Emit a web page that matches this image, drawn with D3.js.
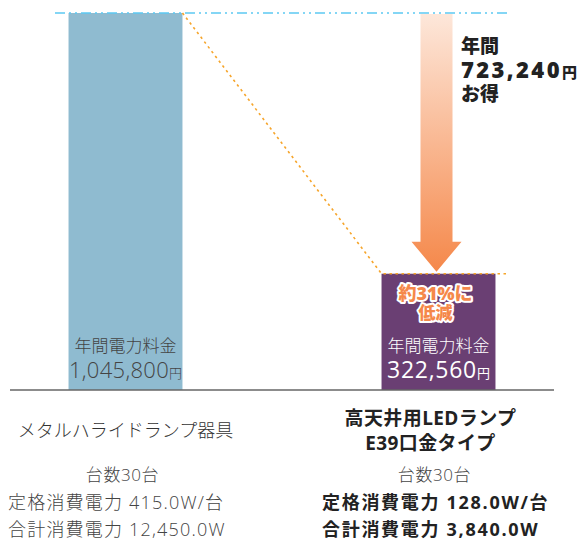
<!DOCTYPE html>
<html><head><meta charset="utf-8">
<script src="https://cdn.jsdelivr.net/npm/d3@7"></script>
<style>body{margin:0;background:#fff}svg{display:block}</style>
</head><body>
<script>
const categories = ["メタルハライドランプ器具", "高天井用LEDランプ E39口金タイプ"];
const costs = [1045800, 322560];
const unitCount = ["台数30台", "台数30台"];
const ratedPower = ["定格消費電力 415.0W/台", "定格消費電力 128.0W/台"];
const totalPower = ["合計消費電力 12,450.0W", "合計消費電力 3,840.0W"];
const savings = 723240;
const reductionLabel = ["約31%に", "低減"];

const W = 584, H = 541;
const font = "'Open Sans','Noto Sans CJK JP',sans-serif";
const svg = d3.select("body").append("svg").attr("width", W).attr("height", H)
  .style("font-family", font);

const x = d3.scaleBand().domain(categories).range([10, 554]).paddingInner(0.636).paddingOuter(0.187);
const y = d3.scaleLinear().domain([0, costs[0]]).range([390, 13]);
const fmt = d3.format(",");
const colors = ["#8fbbd0", "#6a3f73"];

const defs = svg.append("defs");
const grad = defs.append("linearGradient").attr("id", "ag").attr("x1", 0).attr("y1", 0).attr("x2", 0).attr("y2", 1);
grad.append("stop").attr("offset", "0%").attr("stop-color", "#fde7da");
grad.append("stop").attr("offset", "100%").attr("stop-color", "#f5884a");

// bars
svg.selectAll("rect.bar").data(categories).join("rect").attr("class", "bar")
  .attr("x", d => x(d)).attr("width", x.bandwidth())
  .attr("y", (d, i) => y(costs[i])).attr("height", (d, i) => y(0) - y(costs[i]))
  .attr("fill", (d, i) => colors[i]);

// baseline
svg.append("line").attr("x1", 10).attr("x2", 554).attr("y1", y(0)).attr("y2", y(0))
  .attr("stroke", "#666").attr("stroke-width", 1.5);

// cyan reference line at max
svg.append("line").attr("x1", 55).attr("x2", 509).attr("y1", y(costs[0])).attr("y2", y(costs[0]))
  .attr("stroke", "#5cc9f2").attr("stroke-width", 1.5).attr("stroke-dasharray", "10,4,2,4,2,4");

// orange dotted lines
const x0r = x(categories[0]) + x.bandwidth(), x1l = x(categories[1]);
svg.append("path")
  .attr("d", `M${x0r},${y(costs[0])}L${x1l},${y(costs[1])}L${x1l + x.bandwidth() + 14},${y(costs[1])}`)
  .attr("fill", "none").attr("stroke", "#f6a52b").attr("stroke-width", 1.6).attr("stroke-dasharray", "2.5,3.5");

// arrow
const ax = x(categories[1]) + x.bandwidth() / 2 - 2;
const aTop = y(costs[0]) + 1, aTip = y(costs[1]) - 2, headH = 30, shaftW = 16, headW = 25;
svg.append("path")
  .attr("d", `M${ax - shaftW},${aTop}L${ax + shaftW},${aTop}L${ax + shaftW},${aTip - headH}L${ax + headW},${aTip - headH}L${ax},${aTip}L${ax - headW},${aTip - headH}L${ax - shaftW},${aTip - headH}Z`)
  .attr("fill", "url(#ag)");

// savings annotation
const ann = svg.append("text").attr("fill", "#222").attr("font-weight", 800).attr("font-size", 19);
ann.append("tspan").attr("x", 461).attr("y", 53).text("年間");
ann.append("tspan").attr("x", 461).attr("y", 78).attr("font-size", 22).attr("letter-spacing", 2.4).text(fmt(savings));
ann.append("tspan").attr("font-size", 15).text("円");
ann.append("tspan").attr("x", 461).attr("y", 101).text("お得");

// bar labels
categories.forEach((c, i) => {
  const cx = x(c) + x.bandwidth() / 2;
  const col = i === 0 ? "#444" : "#fff";
  svg.append("text").attr("x", cx).attr("y", 352).attr("text-anchor", "middle")
    .attr("fill", col).attr("font-size", 17).attr("font-weight", 300).text("年間電力料金");
  const v = svg.append("text").attr("x", cx).attr("y", 378).attr("text-anchor", "middle")
    .attr("fill", col).attr("font-weight", i === 0 ? 300 : 400);
  v.append("tspan").attr("font-size", i === 0 ? 22 : 23).attr("letter-spacing", i === 0 ? 0.3 : 0.7).text(fmt(costs[i]));
  v.append("tspan").attr("font-size", 13).text("円");
});

// reduction label
const rcx = x(categories[1]) + x.bandwidth() / 2 - 3;
reductionLabel.forEach((t, i) => {
  svg.append("text").attr("x", rcx).attr("y", 300 + i * 19).attr("text-anchor", "middle")
    .attr("font-size", i === 0 ? 18 : 17).attr("font-weight", 800)
    .attr("fill", "#f5884a").attr("stroke", "#fff").attr("stroke-width", 4)
    .attr("stroke-linejoin", "round").attr("paint-order", "stroke").text(t);
});

// category labels
const c0 = x(categories[0]) + x.bandwidth() / 2;
const c1 = x(categories[1]) + x.bandwidth() / 2;
svg.append("text").attr("x", c0).attr("y", 437).attr("text-anchor", "middle")
  .attr("fill", "#333").attr("font-size", 18).attr("font-weight", 300).text(categories[0]);
const catR = categories[1].split(" ");
catR.forEach((t, i) => {
  svg.append("text").attr("x", c1 - 8).attr("y", 425 + i * 25).attr("text-anchor", "middle")
    .attr("fill", "#222").attr("font-size", 19).attr("font-weight", 700).attr("letter-spacing", 0.4).text(t);
});

// spec lines
const specLeft = [8, 322];
[c0 - 3, c1 - 4].forEach((cx, i) => {
  const bold = i === 1;
  svg.append("text").attr("x", cx).attr("y", 481).attr("text-anchor", "middle")
    .attr("fill", "#444").attr("font-size", 17).attr("font-weight", 300).attr("letter-spacing", 0.6).text(unitCount[i]);
  [ratedPower[i], totalPower[i]].forEach((t, j) => {
    svg.append("text").attr("x", specLeft[i]).attr("y", 509 + j * 27)
      .attr("fill", bold ? "#222" : "#444").attr("font-size", 18).attr("font-weight", bold ? 700 : 300)
      .attr("letter-spacing", bold ? 1.7 : 1.2).text(t);
  });
});
</script>
</body></html>
